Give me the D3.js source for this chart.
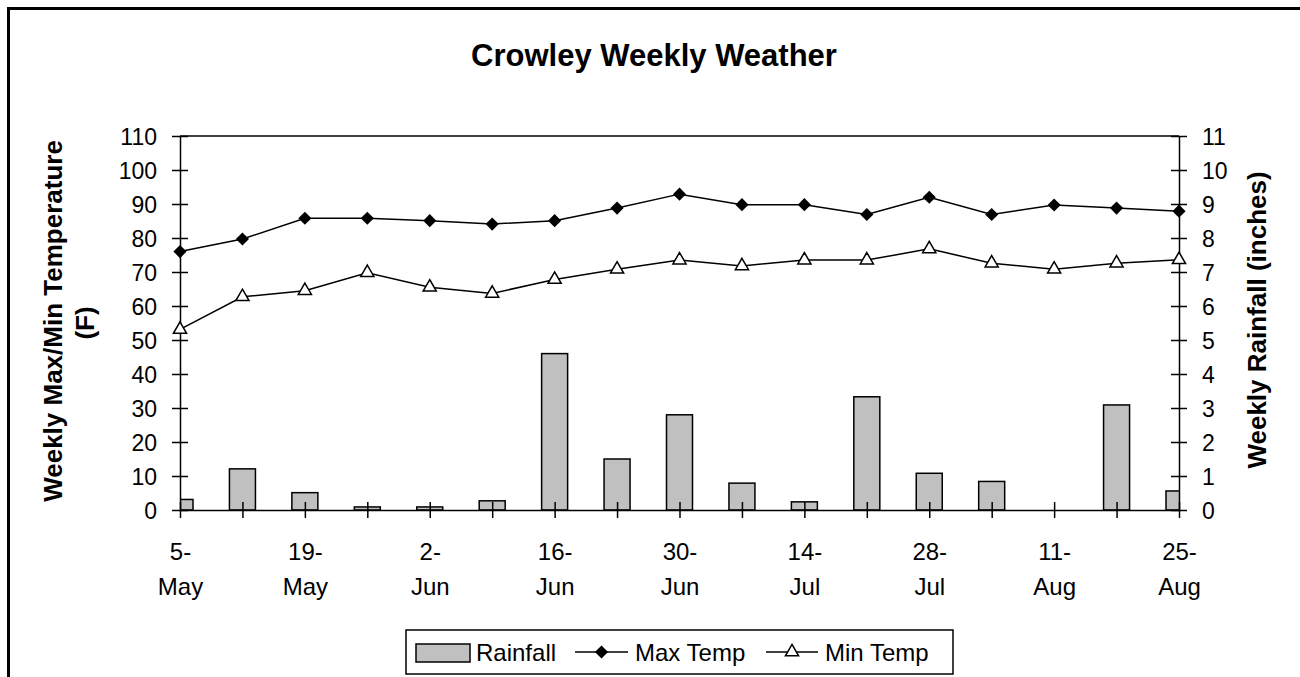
<!DOCTYPE html>
<html>
<head>
<meta charset="utf-8">
<script src="https://cdn.jsdelivr.net/npm/d3@7"></script>
<style>
    body { margin: 0; background: #fff; }
    svg { display: block; font-family: "Liberation Sans", Arial, sans-serif; }
    .axis path, .axis line { stroke: #000; stroke-width: 1.5px; }
    .axis text { fill: #000; }
</style>
</head>
<body>
<svg width="1300" height="677"></svg>
<script>
var weeks = ["5-May", "12-May", "19-May", "26-May", "2-Jun", "9-Jun", "16-Jun", "23-Jun", "30-Jun",
    "7-Jul", "14-Jul", "21-Jul", "28-Jul", "4-Aug", "11-Aug", "18-Aug", "25-Aug"];
var rainfall = [0.31, 1.21, 0.51, 0.09, 0.09, 0.27, 4.6, 1.5, 2.8, 0.79, 0.24, 3.33, 1.08, 0.84, 0, 3.09, 0.56];
var maxTemp = [76, 79.7, 85.8, 85.8, 85.1, 84.1, 85.1, 88.8, 92.9, 89.8, 89.8, 86.9, 92, 86.9, 89.7, 88.8, 87.9];
var minTemp = [53.1, 62.7, 64.5, 69.8, 65.5, 63.7, 67.8, 70.8, 73.5, 71.8, 73.5, 73.5, 76.8, 72.6, 70.8, 72.6, 73.6];
var tempTicks = [0, 10, 20, 30, 40, 50, 60, 70, 80, 90, 100, 110];
var rainTicks = [0, 1, 2, 3, 4, 5, 6, 7, 8, 9, 10, 11];

var svg = d3.select("svg"),
    margin = {top: 136, right: 121, bottom: 167, left: 180},
    width = +svg.attr("width") - margin.left - margin.right,
    height = +svg.attr("height") - margin.top - margin.bottom;

var data = weeks.map(function (w, i) {
    return {week: w, rain: rainfall[i], max: maxTemp[i], min: minTemp[i]};
});

// outer chart border (only top and left fall inside the picture)
svg.append("rect")
    .attr("x", 8.5).attr("y", 8.5)
    .attr("width", 1400).attr("height", 800)
    .attr("fill", "none").attr("stroke", "#000").attr("stroke-width", 3);

svg.append("text")
    .attr("x", 654).attr("y", 66)
    .attr("text-anchor", "middle")
    .style("font-size", "31px").style("font-weight", "bold")
    .text("Crowley Weekly Weather");

var x = d3.scalePoint().domain(weeks).range([0, width]);
var yT = d3.scaleLinear().domain([0, 110]).range([height, 0]);
var yR = d3.scaleLinear().domain([0, 11]).range([height, 0]);
var barW = 26;

var g = svg.append("g")
    .attr("transform", "translate(" + margin.left + "," + margin.top + ")");

g.append("clipPath").attr("id", "plot")
    .append("rect").attr("width", width).attr("height", height);

// rainfall bars
g.append("g").attr("clip-path", "url(#plot)")
    .selectAll(".bar")
    .data(data.filter(function (d) { return d.rain > 0; }))
    .enter().append("rect")
    .attr("class", "bar")
    .attr("x", function (d) { return x(d.week) - barW / 2; })
    .attr("y", function (d) { return yR(d.rain); })
    .attr("width", barW)
    .attr("height", function (d) { return height - yR(d.rain); })
    .attr("fill", "#c0c0c0").attr("stroke", "#000").attr("stroke-width", 1.5);

// plot area top edge
g.append("line")
    .attr("x1", 0).attr("x2", width).attr("y1", 0).attr("y2", 0)
    .attr("stroke", "#000").attr("stroke-width", 1.5);

// x axis, ticks crossing the axis, two-line labels on every second week
var gx = g.append("g")
    .attr("class", "x axis")
    .attr("transform", "translate(0," + height + ")")
    .call(d3.axisBottom(x).tickSize(8).tickSizeOuter(0).tickFormat(""));
gx.selectAll(".tick line").attr("y1", -8);
gx.selectAll(".tick").filter(function (d, i) { return i % 2 === 0; })
    .append("text")
    .attr("text-anchor", "middle")
    .style("font-size", "24px")
    .selectAll("tspan")
    .data(function (d) { var p = d.split("-"); return [p[0] + "-", p[1]]; })
    .enter().append("tspan")
    .attr("x", 0)
    .attr("y", function (d, i) { return i === 0 ? 50 : 85; })
    .text(function (d) { return d; });

// left temperature axis
var gl = g.append("g")
    .attr("class", "y axis")
    .call(d3.axisLeft(yT).tickValues(tempTicks).tickSize(8).tickSizeOuter(0).tickPadding(15));
gl.selectAll(".tick line").attr("x1", 8);
gl.selectAll("text").style("font-size", "23px").attr("dy", "0.36em");

// right rainfall axis
var gr = g.append("g")
    .attr("class", "y axis")
    .attr("transform", "translate(" + width + ",0)")
    .call(d3.axisRight(yR).tickValues(rainTicks).tickSize(8).tickSizeOuter(0).tickPadding(15));
gr.selectAll(".tick line").attr("x1", -8);
gr.selectAll("text").style("font-size", "23px").attr("dy", "0.36em");

// temperature lines
var lineMax = d3.line()
    .x(function (d) { return x(d.week); })
    .y(function (d) { return yT(d.max); });
var lineMin = d3.line()
    .x(function (d) { return x(d.week); })
    .y(function (d) { return yT(d.min); });

g.append("path").datum(data).attr("d", lineMax)
    .attr("fill", "none").attr("stroke", "#000").attr("stroke-width", 1.5);
g.append("path").datum(data).attr("d", lineMin)
    .attr("fill", "none").attr("stroke", "#000").attr("stroke-width", 1.5);

var diamond = d3.symbol().type(d3.symbolDiamond2).size(110);
var triangle = d3.symbol().type(d3.symbolTriangle).size(75);

g.selectAll(".maxpt")
    .data(data)
    .enter().append("path")
    .attr("class", "maxpt")
    .attr("d", diamond)
    .attr("transform", function (d) { return "translate(" + x(d.week) + "," + yT(d.max) + ")"; })
    .attr("fill", "#000");

g.selectAll(".minpt")
    .data(data)
    .enter().append("path")
    .attr("class", "minpt")
    .attr("d", triangle)
    .attr("transform", function (d) { return "translate(" + x(d.week) + "," + yT(d.min) + ")"; })
    .attr("fill", "#fff").attr("stroke", "#000").attr("stroke-width", 1.5);

// axis titles
svg.append("text")
    .attr("transform", "translate(62,321) rotate(-90)")
    .attr("text-anchor", "middle")
    .style("font-size", "26px").style("font-weight", "bold")
    .text("Weekly Max/Min Temperature");
svg.append("text")
    .attr("transform", "translate(94,323) rotate(-90)")
    .attr("text-anchor", "middle")
    .style("font-size", "26px").style("font-weight", "bold")
    .text("(F)");
svg.append("text")
    .attr("transform", "translate(1266,320) rotate(-90)")
    .attr("text-anchor", "middle")
    .style("font-size", "26px").style("font-weight", "bold")
    .text("Weekly Rainfall (inches)");

// legend
var lg = svg.append("g").attr("transform", "translate(406,630)");
lg.append("rect")
    .attr("width", 547).attr("height", 44)
    .attr("fill", "#fff").attr("stroke", "#000").attr("stroke-width", 1.5);
lg.append("rect")
    .attr("x", 10).attr("y", 14).attr("width", 54).attr("height", 18)
    .attr("fill", "#c0c0c0").attr("stroke", "#000").attr("stroke-width", 1.5);
lg.append("text").attr("x", 70).attr("y", 31).style("font-size", "24px").text("Rainfall");

lg.append("line").attr("x1", 169).attr("x2", 222).attr("y1", 22).attr("y2", 22)
    .attr("stroke", "#000").attr("stroke-width", 1.5);
lg.append("path").attr("d", diamond)
    .attr("transform", "translate(195.5,22)").attr("fill", "#000");
lg.append("text").attr("x", 229).attr("y", 31).style("font-size", "24px").text("Max Temp");

lg.append("line").attr("x1", 360).attr("x2", 412).attr("y1", 22).attr("y2", 22)
    .attr("stroke", "#000").attr("stroke-width", 1.5);
lg.append("path").attr("d", triangle)
    .attr("transform", "translate(386,22)")
    .attr("fill", "#fff").attr("stroke", "#000").attr("stroke-width", 1.5);
lg.append("text").attr("x", 419).attr("y", 31).style("font-size", "24px").text("Min Temp");
</script>
</body>
</html>
